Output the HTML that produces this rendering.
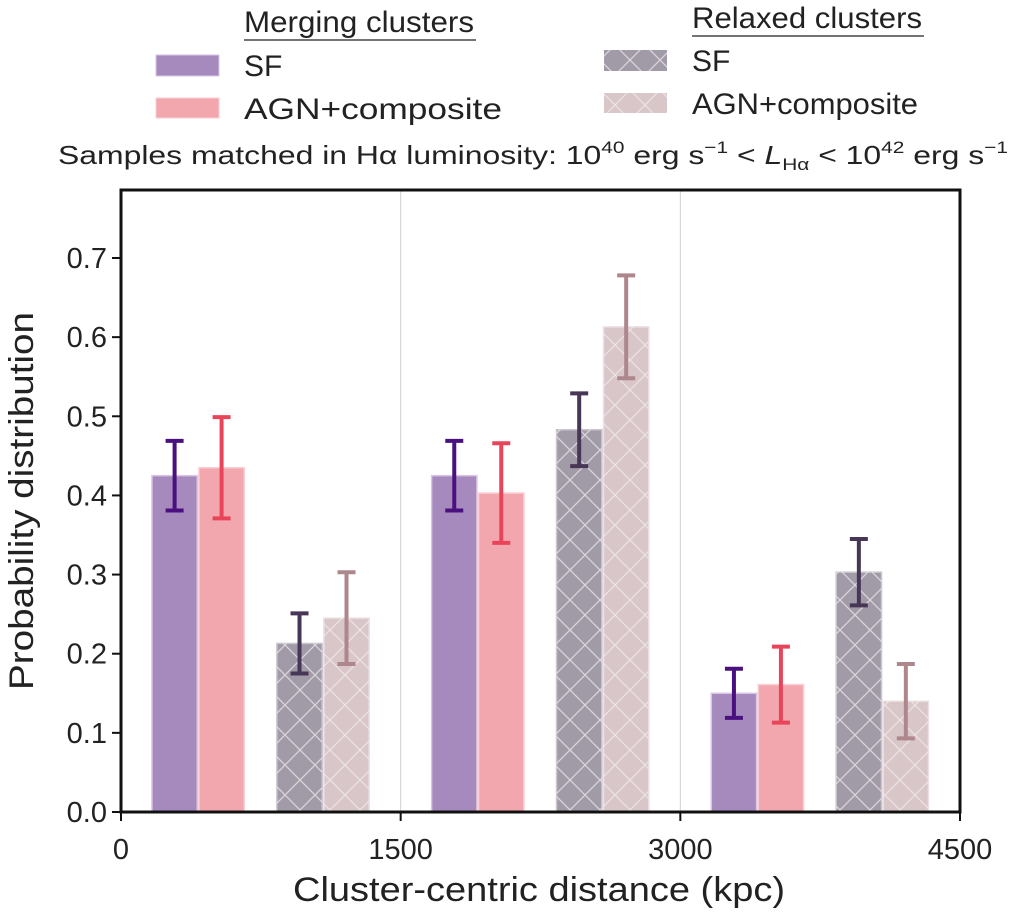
<!DOCTYPE html>
<html><head><meta charset="utf-8"><style>
body{margin:0;background:#fff;}
svg text{font-family:"Liberation Sans","DejaVu Sans",sans-serif;fill:#222;}
</style></head><body>
<svg id="chart" width="1020" height="916" viewBox="0 0 1020 916">
<defs>
<pattern id="hatch" patternUnits="userSpaceOnUse" width="30" height="30">
<path d="M0,0 L30,30 M30,0 L0,30" stroke="#f4eef0" stroke-opacity="0.7" stroke-width="1.3" fill="none"/>
</pattern>
</defs>
<g id="legend">
<text x="244" y="32" font-size="30" textLength="230" lengthAdjust="spacingAndGlyphs">Merging clusters</text>
<line x1="244" y1="40" x2="476" y2="40" stroke="#222" stroke-width="1.3"/>
<rect x="156" y="55" width="63" height="21" fill="#a68abd" stroke="#d9c6e6"/>
<text x="244" y="76" font-size="30">SF</text>
<rect x="156" y="98" width="63" height="20" fill="#f2a7ae" stroke="#f9cdd2"/>
<text x="244" y="119" font-size="30" textLength="258" lengthAdjust="spacingAndGlyphs">AGN+composite</text>
<text x="692" y="28" font-size="30" textLength="230" lengthAdjust="spacingAndGlyphs">Relaxed clusters</text>
<line x1="692" y1="36" x2="924" y2="36" stroke="#222" stroke-width="1.3"/>
<rect x="604" y="50" width="63" height="21" fill="#a19ba8"/>
<rect x="604" y="50" width="63" height="21" fill="url(#hatch)"/>
<text x="692" y="71" font-size="30">SF</text>
<rect x="604" y="93" width="63" height="20" fill="#d8c6c9"/>
<rect x="604" y="93" width="63" height="20" fill="url(#hatch)"/>
<text x="692" y="114" font-size="30" textLength="226" lengthAdjust="spacingAndGlyphs">AGN+composite</text>
</g>
<text x="58" y="164" font-size="26" textLength="950" lengthAdjust="spacingAndGlyphs">Samples matched in Hα luminosity: 10<tspan font-size="17" dy="-11">40</tspan><tspan dy="11"> erg s</tspan><tspan font-size="17" dy="-11">−1</tspan><tspan dy="11"> &lt; </tspan><tspan font-style="italic">L</tspan><tspan font-size="17" dy="6">Hα</tspan><tspan dy="-6"> &lt; 10</tspan><tspan font-size="17" dy="-11">42</tspan><tspan dy="11"> erg s</tspan><tspan font-size="17" dy="-11">−1</tspan></text>
<g id="plot"></g>
<text x="539" y="901" font-size="34" textLength="492" lengthAdjust="spacingAndGlyphs" text-anchor="middle">Cluster-centric distance (kpc)</text>
<text transform="translate(33,501) rotate(-90)" font-size="34" textLength="378" lengthAdjust="spacingAndGlyphs" text-anchor="middle">Probability distribution</text>
</svg>
<script>
const binStarts = [0, 1500, 3000];
const mergingSF = [0.425, 0.425, 0.150];
const mergingSFErr = [0.044, 0.044, 0.031];
const mergingAGN = [0.435, 0.403, 0.161];
const mergingAGNErr = [0.064, 0.063, 0.048];
const relaxedSF = [0.213, 0.483, 0.303];
const relaxedSFErr = [0.038, 0.046, 0.042];
const relaxedAGN = [0.245, 0.613, 0.140];
const relaxedAGNErr = [0.058, 0.065, 0.047];
const yTicks = [0, 0.1, 0.2, 0.3, 0.4, 0.5, 0.6, 0.7];
const xTicks = [0, 1500, 3000, 4500];

const X0=121, X1=960, Y0=812, YT=190;
const xs = v => X0 + (v/4500)*(X1-X0);
const ys = v => Y0 - v*(Y0-258)/0.7;
const g = document.getElementById('plot');
const NS='http://www.w3.org/2000/svg';
function mk(tag, attrs){const e=document.createElementNS(NS,tag);for(const k in attrs)e.setAttribute(k,attrs[k]);g.appendChild(e);return e;}

[1500,3000].forEach(v=>{mk('line',{x1:xs(v),x2:xs(v),y1:YT,y2:Y0,stroke:'#d0d0d0','stroke-width':1});});

const series = [
 {vals:mergingSF, err:mergingSFErr, off:166, fill:'#a68abd', edge:'#d9c6e6', ec:'#4b1080', hatch:false, name:'merging-sf'},
 {vals:mergingAGN, err:mergingAGNErr, off:418, fill:'#f2a7ae', edge:'#f9cdd2', ec:'#e8455a', hatch:false, name:'merging-agn'},
 {vals:relaxedSF, err:relaxedSFErr, off:836, fill:'#a19ba8', edge:'#c9c4ce', ec:'#473655', hatch:true, name:'relaxed-sf'},
 {vals:relaxedAGN, err:relaxedAGNErr, off:1088, fill:'#d8c6c9', edge:'#ebe0e2', ec:'#ae878d', hatch:true, name:'relaxed-agn'}
];
const W = 243;
series.forEach(s=>{
 s.vals.forEach((v,i)=>{
  const a=xs(binStarts[i]+s.off), b=xs(binStarts[i]+s.off+W);
  const r=mk('rect',{x:a,y:ys(v),width:b-a,height:Y0-ys(v),fill:s.fill,stroke:s.edge,'stroke-width':1.5});
  
  
  if(s.hatch) mk('rect',{x:a,y:ys(v),width:b-a,height:Y0-ys(v),fill:'url(#hatch)'});
  const c=(a+b)/2, hi=ys(v+s.err[i]), lo=ys(v-s.err[i]);
  const eb=mk('path',{d:`M${c},${hi}V${lo}M${c-9},${hi}H${c+9}M${c-9},${lo}H${c+9}`,stroke:s.ec,'stroke-width':4,fill:'none'});
  
  
 });
});
const fr=mk('rect',{x:X0,y:YT,width:X1-X0,height:Y0-YT,fill:'none',stroke:'#111','stroke-width':3});


yTicks.forEach(v=>{
 mk('line',{x1:X0-9,x2:X0,y1:ys(v),y2:ys(v),stroke:'#111','stroke-width':2});
 const t=mk('text',{x:X0-14,y:ys(v)+10,'font-size':29,'text-anchor':'end'});
 t.textContent=v.toFixed(1);
 
 
});
xTicks.forEach(v=>{
 mk('line',{x1:xs(v),x2:xs(v),y1:Y0,y2:Y0+9,stroke:'#111','stroke-width':2});
 const t=mk('text',{x:xs(v),y:Y0+47,'font-size':29,'text-anchor':'middle'});
 t.textContent=v;
 
 
});
</script>
</body></html>
